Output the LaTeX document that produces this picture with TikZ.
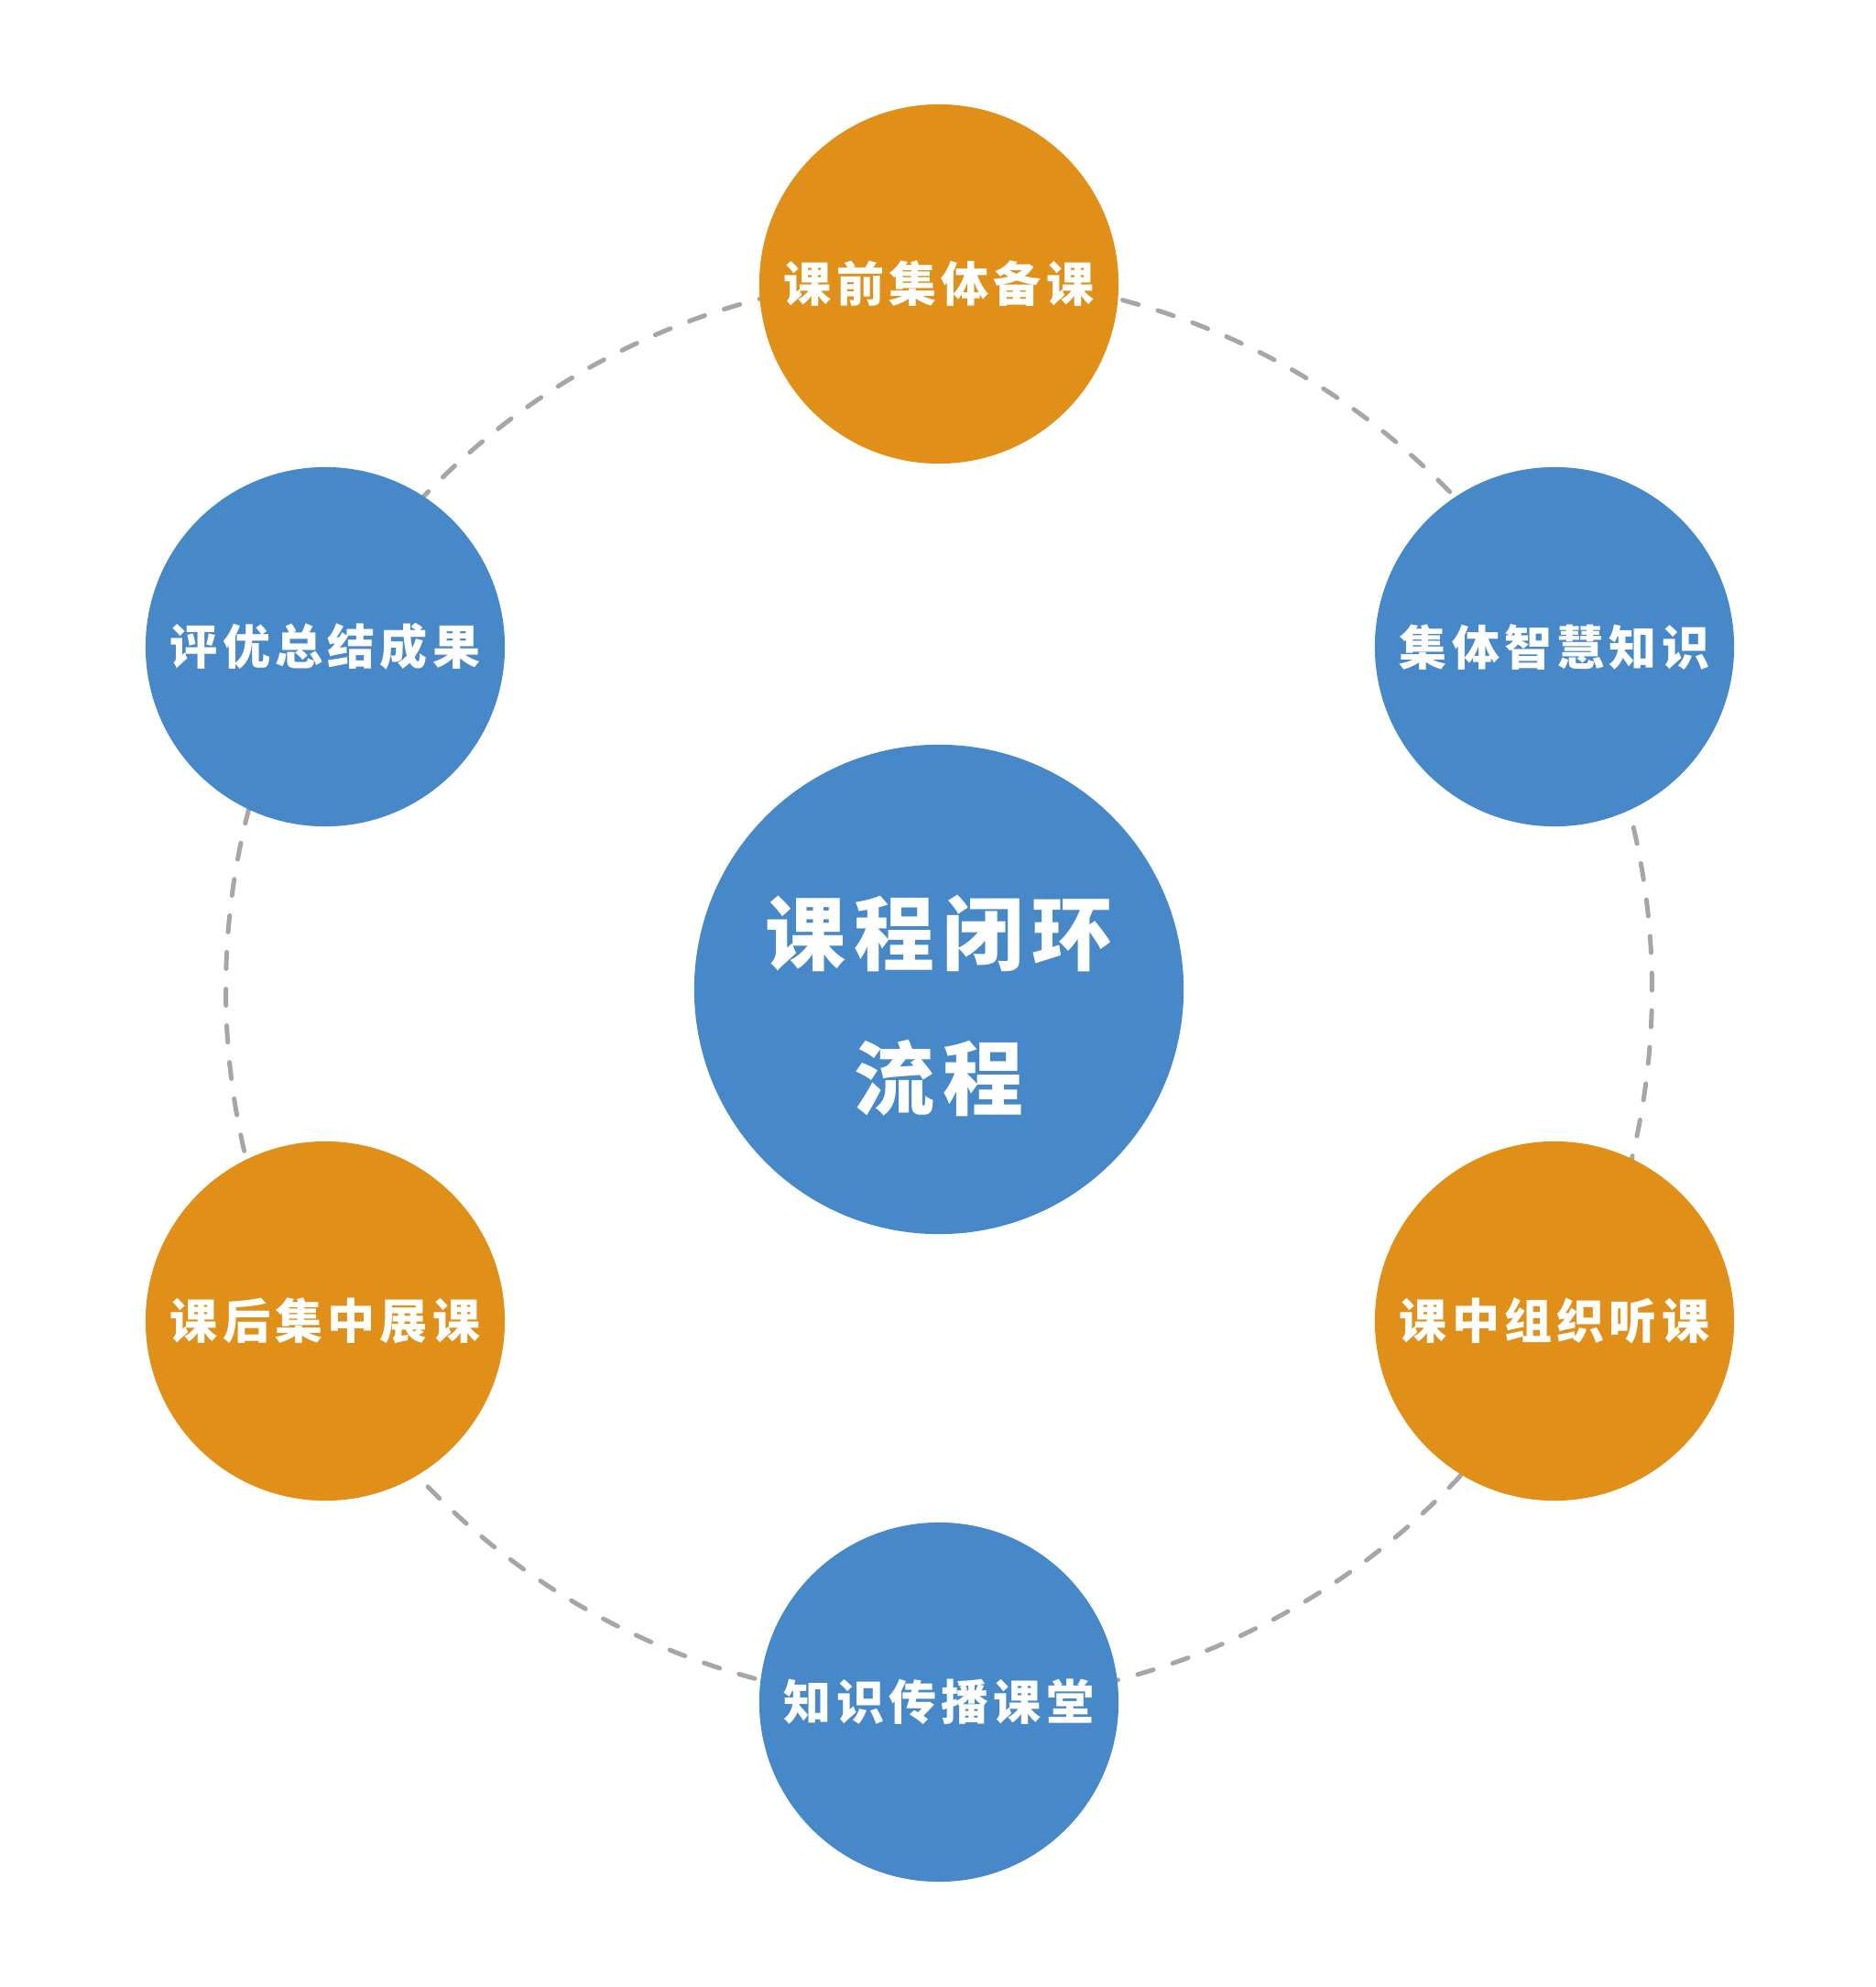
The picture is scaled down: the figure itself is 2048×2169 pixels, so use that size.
\documentclass[tikz,border=0pt]{standalone}
\usepackage{fontspec}
\newfontfamily\cjk[LetterSpace=10]{Noto Sans CJK SC}
\definecolor{stageorange}{HTML}{E09019}
\definecolor{stageblue}{HTML}{4688C8}
\definecolor{ringgray}{HTML}{A6A6A6}

\begin{document}
\begin{tikzpicture}[x=0.01cm,y=-0.01cm,
  hub node/.style={circle,fill=stageblue,inner sep=0pt,minimum size=5.34cm,text=white,
    font=\cjk\bfseries\fontsize{25pt}{44.7pt}\selectfont},
  stage node/.style={circle,inner sep=0pt,minimum size=3.92cm,text=white,
    font=\cjk\bfseries\fontsize{14.8pt}{16pt}\selectfont},
  ring/.style={draw=ringgray,line width=1.42pt,line cap=round,dash pattern=on 5.1pt off 6.3pt}]

  \fill[white] (0,0) rectangle (2048,2169);
  \useasboundingbox (0,0) rectangle (2048,2169);

  \node[hub node] (hub) at (1025,1080)
    {\raisebox{-0.2cm}[\height][\depth]{\begin{tabular}{@{}c@{}}课程闭环\\流程\end{tabular}}};
  \draw[ring] (hub.center) circle (7.78cm);

  \node[stage node,fill=stageorange] (pre) at (1025,310) {课前集体备课};
  \node[stage node,fill=stageblue] (wisdom) at (1697,706) {集体智慧知识};
  \node[stage node,fill=stageorange] (mid) at (1697,1442) {课中组织听课};
  \node[stage node,fill=stageblue] (spread) at (1025,1858) {知识传播课堂};
  \node[stage node,fill=stageorange] (post) at (355,1442) {课后集中展课};
  \node[stage node,fill=stageblue] (award) at (355,706) {评优总结成果};

\end{tikzpicture}
\end{document}
